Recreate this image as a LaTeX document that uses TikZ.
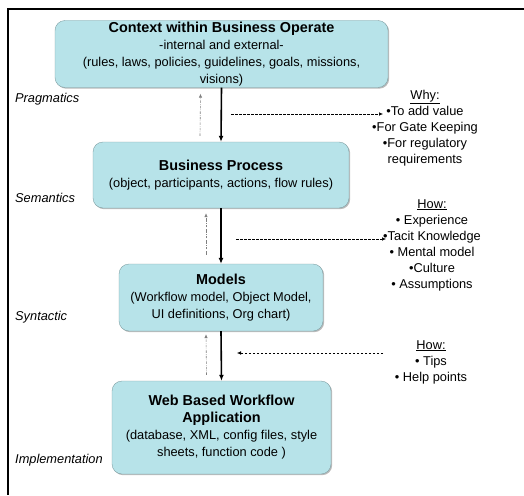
\documentclass[tikz,border=0pt]{standalone}
\usepackage{fontspec}
\setmainfont{Liberation Sans}
\usetikzlibrary{arrows.meta,shadows}
\definecolor{boxcyan}{HTML}{B7E3E9}
\newcommand{\hd}[1]{{\fontsize{14.4}{17.5}\selectfont\bfseries #1}}

\begin{document}
\begin{tikzpicture}[x=1pt,y=-1pt,
	box/.style={draw=boxcyan!70!black,line width=.4pt,fill=boxcyan,rounded corners=10pt,align=center,inner sep=0pt,
		font=\fontsize{12.8}{17}\selectfont,drop shadow={shadow xshift=1.2pt,shadow yshift=-1.2pt,opacity=.45,fill=black!60}},
	side/.style={anchor=west,inner sep=0pt,font=\fontsize{12.8}{15}\selectfont\itshape},
	note/.style={align=center,inner sep=0pt,font=\fontsize{12.8}{16}\selectfont},
	flow/.style={line width=1.6pt,-{Latex[length=6pt,width=5pt]}},
	back/.style={gray,line width=.6pt,dash pattern=on 2.5pt off 1.2pt on .6pt off 1.2pt,-{Latex[length=4pt,width=3.5pt]}},
	hint/.style={line width=.5pt,dash pattern=on 2.5pt off 1.5pt,-{Latex[length=4pt,width=3.5pt]}}]
	\useasboundingbox (0,0) rectangle (524,495);
	\draw[line width=1.8pt] (524,9) -- (8,9) -- (8,495);

	% the four layers
	\node[box,minimum width=333pt,minimum height=67pt] (context) at (221.5,54)
		{\hd{Context within Business Operate}\\-internal and external-\\(rules, laws, policies, guidelines, goals, missions,\\visions)};
	\node[box,minimum width=256pt,minimum height=66pt] (process) at (221,175)
		{\hd{Business Process}\\(object, participants, actions, flow rules)};
	\node[box,minimum width=204pt,minimum height=67pt] (models) at (221,297.5)
		{\hd{Models}\\(Workflow model, Object Model,\\UI definitions, Org chart)};
	\node[box,minimum width=219pt,minimum height=93pt] (webapp) at (221.5,427.5)
		{\hd{Web Based Workflow}\\\hd{Application}\\(database, XML, config files, style\\sheets, function code )};

	\node[side] (pragmatics) at (15,99) {Pragmatics};
	\node[side] (semantics) at (15,198) {Semantics};
	\node[side] (syntactic) at (15,317) {Syntactic};
	\node[side] (implementation) at (15,460) {Implementation};

	\draw[flow] (context.south) -- (process.north);
	\draw[flow] (process.south) -- (models.north);
	\draw[flow] (models.south) -- (webapp.north);
	\draw[back] ([xshift=-21pt,yshift=6pt]process.north) -- ([xshift=-21pt,yshift=-6pt]context.south);
	\draw[back] ([xshift=-15pt,yshift=9pt]models.north) -- ([xshift=-15pt,yshift=-5pt]process.south);
	\draw[back] ([xshift=-15pt,yshift=6pt]webapp.north) -- ([xshift=-15pt,yshift=-3pt]models.south);

	% notes on the right
	\node[note] (why) at (425,128)
		{\underline{Why:}\\\textbullet To add value\\\textbullet For Gate Keeping\\\textbullet For regulatory\\requirements};
	\node[note] (howmodel) at (432,245)
		{\underline{How:}\\\textbullet\ Experience\\\textbullet Tacit Knowledge\\\textbullet\ Mental model\\\textbullet Culture\\\textbullet\ Assumptions};
	\node[note] (howapp) at (431,362)
		{\underline{How:}\\\textbullet\ Tips\\\textbullet\ Help points};

	\coordinate (whyfrom) at (231,114);
	\coordinate (whyto) at (383,114);
	\coordinate (howfrom) at (236,239);
	\coordinate (howto) at (386,239);
	\coordinate (tipsfrom) at (383,353);
	\coordinate (tipsto) at (237,353);
	\draw[hint] (whyfrom) -- (whyto);
	\draw[hint] (howfrom) -- (howto);
	\draw[hint] (tipsfrom) -- (tipsto);
\end{tikzpicture}
\end{document}
